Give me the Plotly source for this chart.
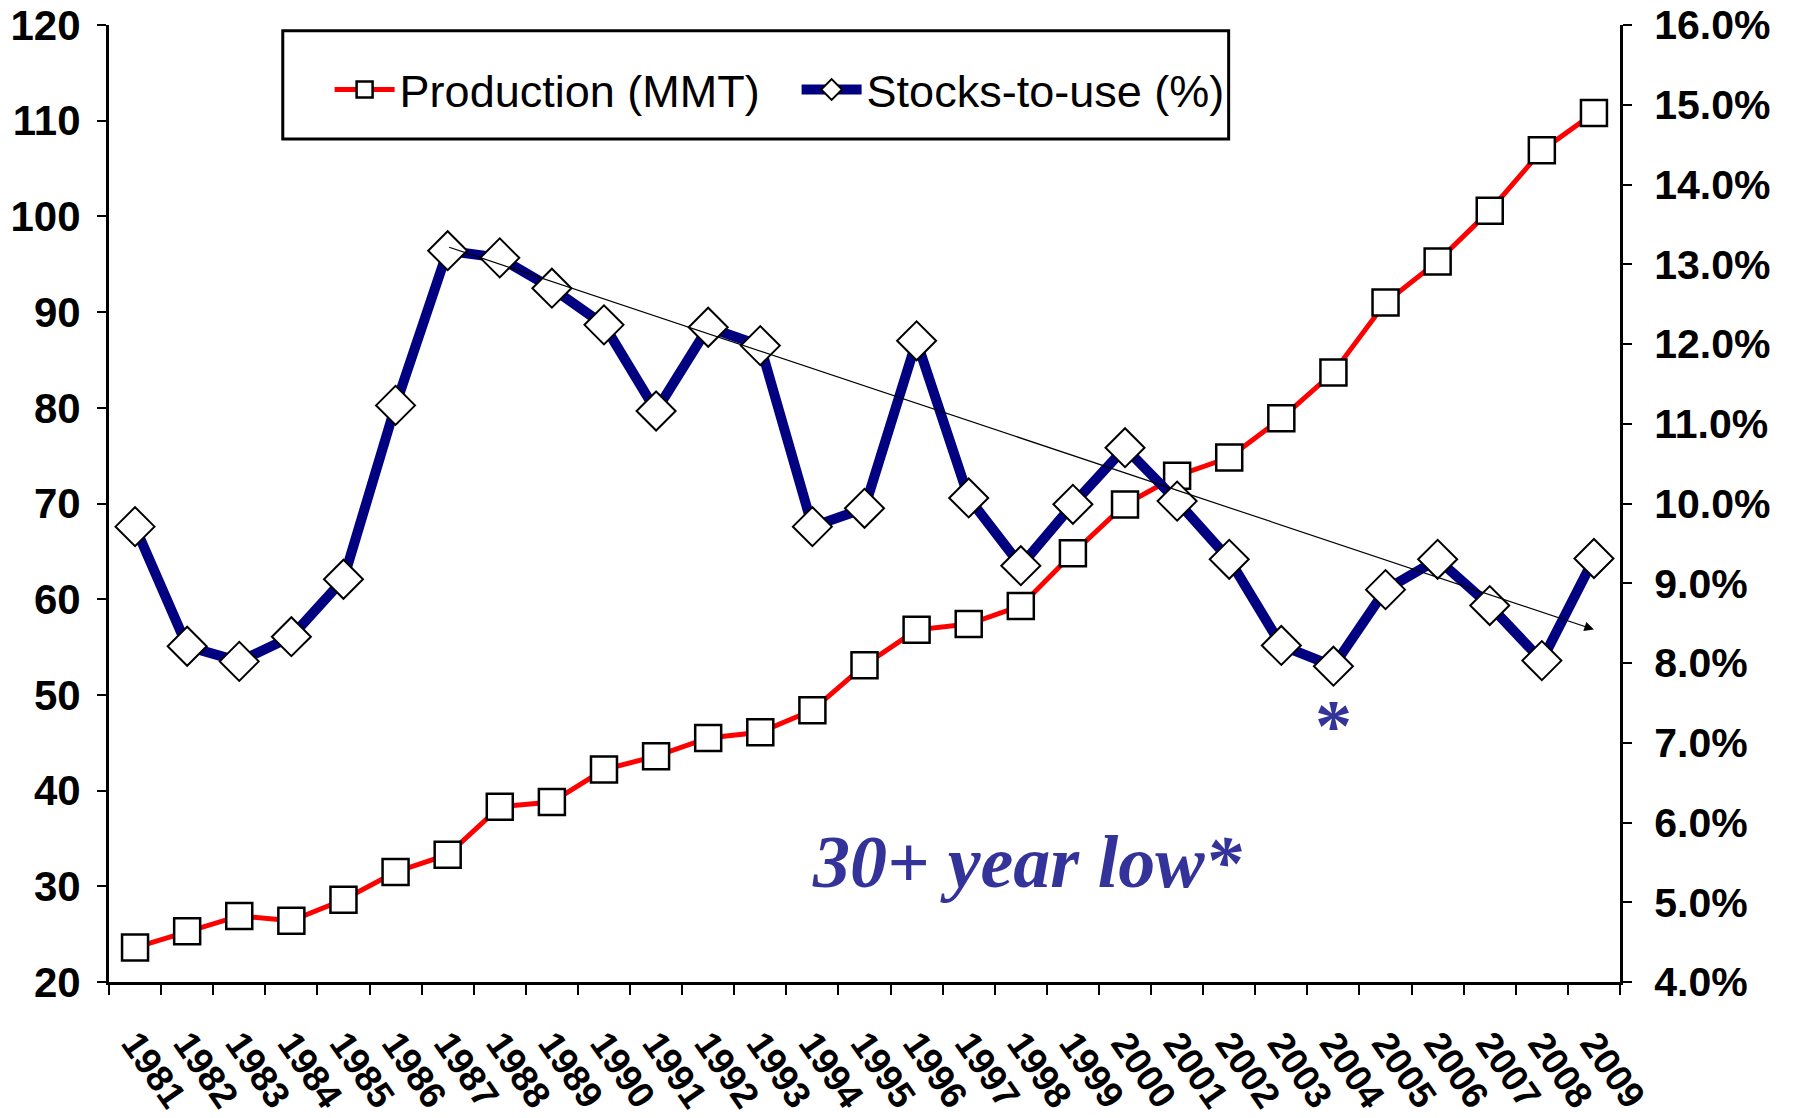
import plotly.graph_objects as go

years = [str(y) for y in range(1981, 2010)]
production = [23.6, 25.3, 26.9, 26.4, 28.6, 31.5, 33.3, 38.3, 38.8, 42.2, 43.6, 45.5,
              46.1, 48.4, 53.1, 56.8, 57.4, 59.3, 64.8, 69.9, 72.9, 74.8, 78.9, 83.7,
              91.0, 95.3, 100.6, 106.9, 110.8]
stocks_to_use = [9.71, 8.21, 8.02, 8.33, 9.05, 11.23, 13.17, 13.08, 12.70, 12.24, 11.16, 12.21,
                 11.98, 9.71, 9.94, 12.04, 10.07, 9.22, 9.99, 10.70, 10.03, 9.30, 8.22, 7.96,
                 8.92, 9.30, 8.72, 8.03, 9.31]
trend_start = ("1987", 13.22)
trend_end = ("2009", 8.42)
low_marker = ("2004", 7.21)
left_ticks = list(range(20, 121, 10))
right_ticks = list(range(4, 17))

LEFTFONT = dict(family="Liberation Sans, Arial, sans-serif", size=42, color="black", weight="bold")
RIGHTFONT = dict(family="Liberation Sans, Arial, sans-serif", size=41, color="black", weight="bold")
NAVY = "#000080"
BLUE_TXT = "#333399"

fig = go.Figure()
fig.add_trace(go.Scatter(
    x=years, y=production, name="Production (MMT)", mode="lines+markers",
    line=dict(color="#ff0000", width=5),
    marker=dict(symbol="square", size=26, color="white", line=dict(color="black", width=2.5)),
    xaxis="x", yaxis="y"))
fig.add_trace(go.Scatter(
    x=years, y=stocks_to_use, name="Stocks-to-use (%)", mode="lines+markers",
    line=dict(color=NAVY, width=10),
    marker=dict(symbol="diamond", size=30, color="white", line=dict(color="black", width=2)),
    xaxis="x", yaxis="y2"))

fig.update_layout(
    template="none",
    width=1786, height=1110,
    margin=dict(l=101, r=174, t=17, b=136, autoexpand=False),
    plot_bgcolor="white", paper_bgcolor="white",
    showlegend=True,
    legend=dict(orientation="h", x=0.146, y=0.970, xanchor="left", yanchor="top",
                borderwidth=0, bgcolor="rgba(0,0,0,0)",
                font=dict(family="Liberation Sans, Arial, sans-serif", size=45, color="black"),
                itemwidth=60, entrywidth=392),
    xaxis=dict(type="category", range=[-0.5, 28.5], tickson="boundaries", automargin=False,
               ticks="outside", ticklen=10, tickwidth=2, tickcolor="black",
               showline=True, linecolor="black", linewidth=3, showgrid=False, zeroline=False,
               tickangle=55, tickfont=dict(family="Liberation Sans, Arial, sans-serif", size=37, color="black", weight="bold"),
               ticklabelstandoff=22, ticklabeloverflow="allow"),
    xaxis2=dict(overlaying="x", anchor="y", range=[-0.5, 28.5], automargin=False,
                tickvals=[i - 0.5 for i in range(len(years) + 1)],
                ticks="inside", ticklen=10, tickwidth=2, tickcolor="black",
                showticklabels=False, showline=False, showgrid=False, zeroline=False),
    yaxis=dict(range=[20, 120], tickvals=left_ticks, ticks="outside", ticklen=9, tickwidth=2,
               tickcolor="black", showline=True, linecolor="black", linewidth=3, automargin=False,
               showgrid=False, zeroline=False, tickfont=LEFTFONT, ticklabelstandoff=8,
               ticklabeloverflow="allow"),
    yaxis2=dict(range=[4, 16], tickvals=right_ticks, ticktext=[f"{v:.1f}%" for v in right_ticks],
                overlaying="y", side="right", anchor="x", automargin=False,
                ticks="outside", ticklen=9, tickwidth=2, tickcolor="black",
                showline=True, linecolor="black", linewidth=3,
                showgrid=False, zeroline=False, tickfont=RIGHTFONT, ticklabelstandoff=14,
                ticklabeloverflow="allow"),
    yaxis3=dict(range=[20, 120], tickvals=left_ticks, overlaying="y", side="left", anchor="x",
                ticks="inside", ticklen=9, tickwidth=2, tickcolor="black", automargin=False,
                showticklabels=False, showline=False, showgrid=False, zeroline=False),
    yaxis4=dict(range=[4, 16], tickvals=right_ticks, overlaying="y", side="right", anchor="x",
                ticks="inside", ticklen=9, tickwidth=2, tickcolor="black", automargin=False,
                showticklabels=False, showline=False, showgrid=False, zeroline=False),
)

# legend frame
fig.add_shape(type="rect", xref="paper", yref="paper", x0=0.115, x1=0.741, y0=0.881, y1=0.994,
              line=dict(color="black", width=3), fillcolor="rgba(0,0,0,0)", layer="above")

xi = {y: i for i, y in enumerate(years)}
fig.add_annotation(x=xi[trend_end[0]], y=trend_end[1], xref="x", yref="y2",
                   ax=xi[trend_start[0]], ay=trend_start[1], axref="x", ayref="y2",
                   showarrow=True, arrowhead=2, arrowsize=1.6, arrowwidth=1.2,
                   arrowcolor="black", text="")
fig.add_annotation(x=xi[low_marker[0]], y=low_marker[1], xref="x", yref="y2",
                   text="*", showarrow=False,
                   font=dict(family="Liberation Serif, Times New Roman, serif", size=74,
                             color=BLUE_TXT, weight="bold"))
fig.add_annotation(x=0.608, y=0.08, xref="paper", yref="paper",
                   text="30+ year low*", showarrow=False,
                   font=dict(family="Liberation Serif, Times New Roman, serif", size=74,
                             color=BLUE_TXT, weight="bold", style="italic"))

fig.write_html("out.html")
